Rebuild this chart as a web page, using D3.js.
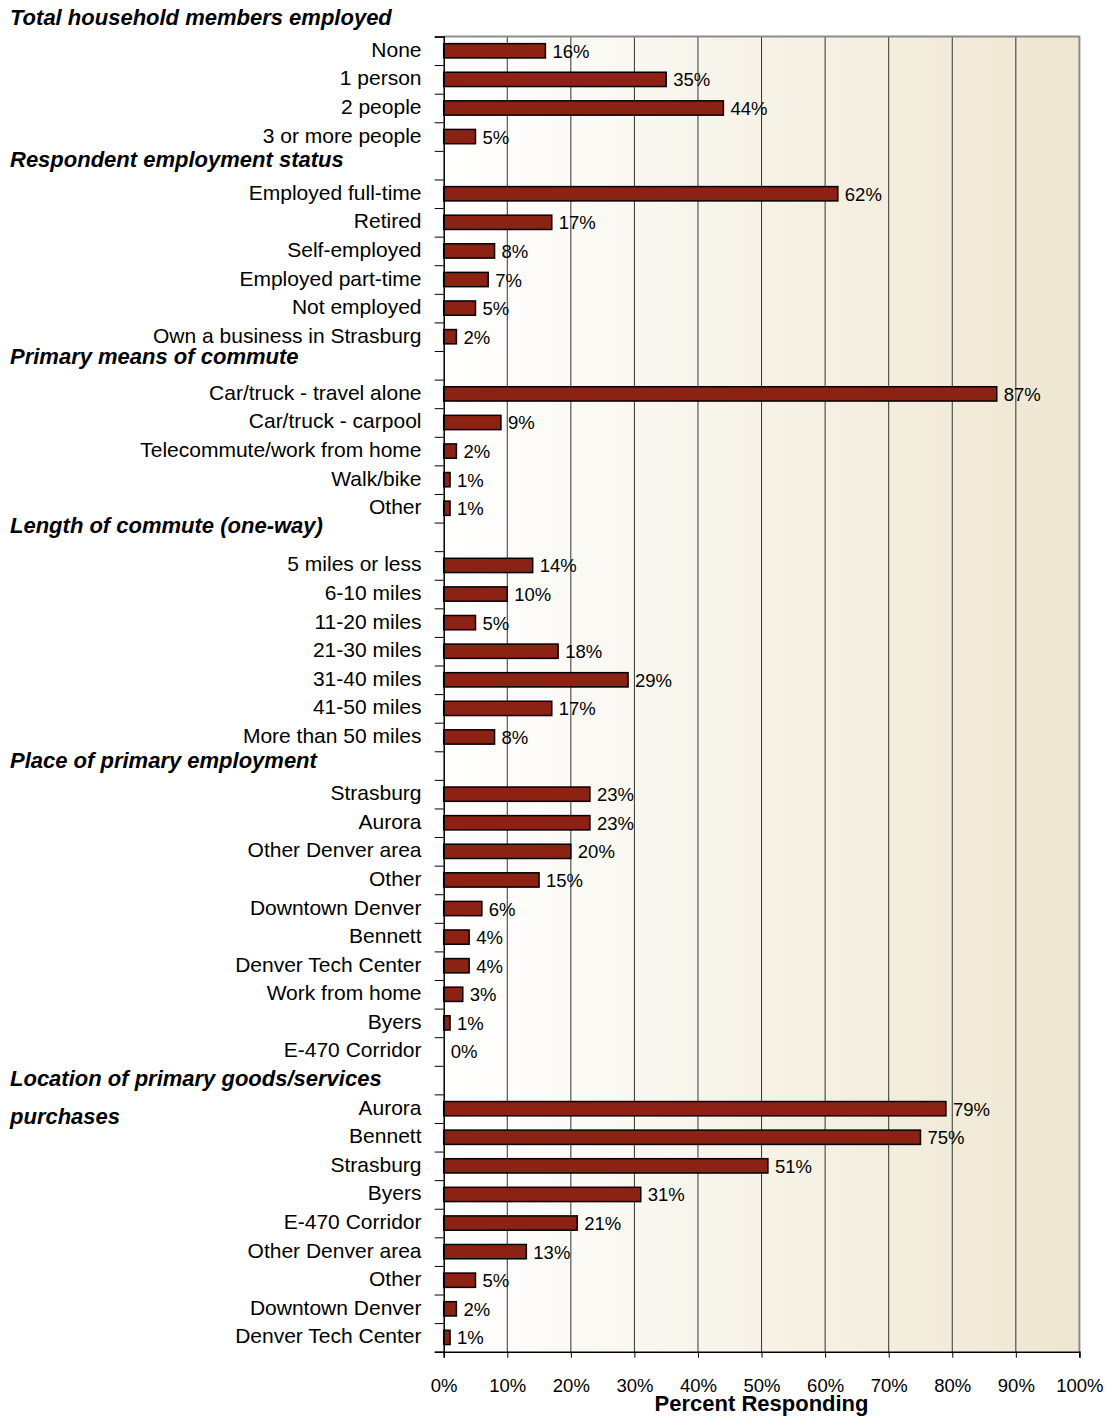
<!DOCTYPE html>
<html>
<head>
<meta charset="utf-8">
<script src="https://cdn.jsdelivr.net/npm/d3@7"></script>
<style>
  body { margin: 0; background: #fff; }
  svg { display: block; }
  .cat { font-family: "Liberation Sans", Arial, sans-serif; font-size: 21px; fill: #000; }
  .hdr { font-family: "Liberation Sans", Arial, sans-serif; font-size: 22px; font-weight: bold; font-style: italic; fill: #000; }
  .val { font-family: "Liberation Sans", Arial, sans-serif; font-size: 18.5px; fill: #000; }
  .xt text { font-family: "Liberation Sans", Arial, sans-serif; font-size: 18.5px; fill: #000; }
  .xtitle { font-family: "Liberation Sans", Arial, sans-serif; font-size: 22px; font-weight: bold; fill: #000; }
</style>
</head>
<body>
<svg id="chart" width="1107" height="1419"></svg>
<script>
// section headings
var sectionTitles = [
    ["Total household members employed"],
    ["Respondent employment status"],
    ["Primary means of commute"],
    ["Length of commute (one-way)"],
    ["Place of primary employment"],
    ["Location of primary goods/services", "purchases"]
];

var householdCats = ["None", "1 person", "2 people", "3 or more people"];
var householdVals = [16, 35, 44, 5];

var statusCats = ["Employed full-time", "Retired", "Self-employed", "Employed part-time", "Not employed", "Own a business in Strasburg"];
var statusVals = [62, 17, 8, 7, 5, 2];

var commuteCats = ["Car/truck - travel alone", "Car/truck - carpool", "Telecommute/work from home", "Walk/bike", "Other"];
var commuteVals = [87, 9, 2, 1, 1];

var lengthCats = ["5 miles or less", "6-10 miles", "11-20 miles", "21-30 miles", "31-40 miles", "41-50 miles", "More than 50 miles"];
var lengthVals = [14, 10, 5, 18, 29, 17, 8];

var placeCats = ["Strasburg", "Aurora", "Other Denver area", "Other", "Downtown Denver", "Bennett", "Denver Tech Center", "Work from home", "Byers", "E-470 Corridor"];
var placeVals = [23, 23, 20, 15, 6, 4, 4, 3, 1, 0];

var goodsCats = ["Aurora", "Bennett", "Strasburg", "Byers", "E-470 Corridor", "Other Denver area", "Other", "Downtown Denver", "Denver Tech Center"];
var goodsVals = [79, 75, 51, 31, 21, 13, 5, 2, 1];

var xTicks = [0, 10, 20, 30, 40, 50, 60, 70, 80, 90, 100];

var sections = [
    [householdCats, householdVals],
    [statusCats, statusVals],
    [commuteCats, commuteVals],
    [lengthCats, lengthVals],
    [placeCats, placeVals],
    [goodsCats, goodsVals]
];

// small vertical nudges for the heading text (layout only)
var headerNudge = [3, 2, -1, -4, 2, 6];

// flatten into rows; each section after the first gets a blank header row
var rows = [];
var headers = [];
sections.forEach(function(s, i) {
    var id = "h" + i;
    if (i > 0) rows.push({id: id, header: true});
    headers.push({id: id, lines: sectionTitles[i], first: i === 0, nudge: headerNudge[i]});
    s[0].forEach(function(c, j) {
        rows.push({id: i + "_" + j, label: c, value: s[1][j]});
    });
});

var plotLeft = 443.7, plotRight = 1079.4, plotTop = 36.5, plotBottom = 1351.7;
var svg = d3.select("#chart");

var x = d3.scaleLinear().domain([0, 100]).range([plotLeft, plotRight]);
var y = d3.scaleBand().domain(rows.map(function(d) { return d.id; }))
    .range([plotTop, plotBottom]).paddingInner(0.5).paddingOuter(0.25);
var yIdx = d3.scaleLinear().domain([0, rows.length]).range([plotTop, plotBottom]);
var step = y.step();

// background gradient
var grad = svg.append("defs").append("linearGradient").attr("id", "bg")
    .attr("x1", "0%").attr("x2", "100%").attr("y1", "0%").attr("y2", "0%");
grad.append("stop").attr("offset", "0%").attr("stop-color", "#ffffff");
grad.append("stop").attr("offset", "100%").attr("stop-color", "#eee6d0");

svg.append("rect").attr("x", plotLeft).attr("y", plotTop)
    .attr("width", plotRight - plotLeft).attr("height", plotBottom - plotTop)
    .attr("fill", "url(#bg)");

// vertical gridlines
svg.append("g").selectAll("line")
    .data(xTicks.filter(function(t) { return t > 0 && t < 100; }))
    .enter().append("line")
    .attr("x1", function(d) { return x(d); }).attr("x2", function(d) { return x(d); })
    .attr("y1", plotTop).attr("y2", plotBottom)
    .attr("stroke", "#333").attr("stroke-width", 1);

// top and right border
svg.append("path")
    .attr("d", "M" + plotLeft + "," + plotTop + "H" + plotRight + "V" + plotBottom)
    .attr("fill", "none").attr("stroke", "#8c8c8c").attr("stroke-width", 2);

// bars
svg.append("g").selectAll("rect")
    .data(rows.filter(function(d) { return !d.header && d.value > 0; }))
    .enter().append("rect")
    .attr("x", x(0))
    .attr("y", function(d) { return y(d.id); })
    .attr("width", function(d) { return x(d.value) - x(0); })
    .attr("height", y.bandwidth())
    .attr("fill", "#8b2214")
    .attr("stroke", "#000").attr("stroke-width", 1.5);

// value labels
svg.append("g").selectAll("text")
    .data(rows.filter(function(d) { return !d.header; }))
    .enter().append("text")
    .attr("class", "val")
    .attr("x", function(d) { return x(d.value) + 7; })
    .attr("y", function(d) { return y(d.id) + y.bandwidth() / 2 + 7; })
    .text(function(d) { return d.value + "%"; });

// category labels
svg.append("g").selectAll("text")
    .data(rows.filter(function(d) { return !d.header; }))
    .enter().append("text")
    .attr("class", "cat")
    .attr("text-anchor", "end")
    .attr("x", 421.5)
    .attr("y", function(d) { return y(d.id) + y.bandwidth() / 2 + 6; })
    .text(function(d) { return d.label; });

// section headings
headers.forEach(function(h) {
    var cy = h.first ? plotTop - step / 2 : y(h.id) + y.bandwidth() / 2;
    var t = svg.append("text").attr("class", "hdr").attr("x", 10).attr("y", cy + h.nudge);
    h.lines.forEach(function(line, k) {
        t.append("tspan").attr("x", 10).attr("dy", k === 0 ? 0 : 38).text(line);
    });
});

// left axis with ticks at row boundaries
var yAxis = svg.append("g").attr("transform", "translate(" + plotLeft + ",0)")
    .call(d3.axisLeft(yIdx).tickValues(d3.range(rows.length + 1)).tickSize(9).tickFormat(""));
yAxis.select(".domain").attr("stroke", "#000").attr("stroke-width", 1.5);
yAxis.selectAll(".tick line").attr("stroke", "#000");

// bottom axis
var xAxis = svg.append("g").attr("class", "xt").attr("transform", "translate(0," + plotBottom + ")")
    .call(d3.axisBottom(x).tickValues(xTicks).tickSize(6).tickPadding(21)
        .tickFormat(function(d) { return d + "%"; }));
xAxis.select(".domain").attr("stroke", "#000").attr("stroke-width", 1.5);
xAxis.selectAll(".tick line").attr("stroke", "#000");
xAxis.selectAll("text").attr("font-size", null).attr("font-family", null);

svg.append("text").attr("class", "xtitle")
    .attr("text-anchor", "middle")
    .attr("x", (plotLeft + plotRight) / 2)
    .attr("y", 1411)
    .text("Percent Responding");
</script>
</body>
</html>
